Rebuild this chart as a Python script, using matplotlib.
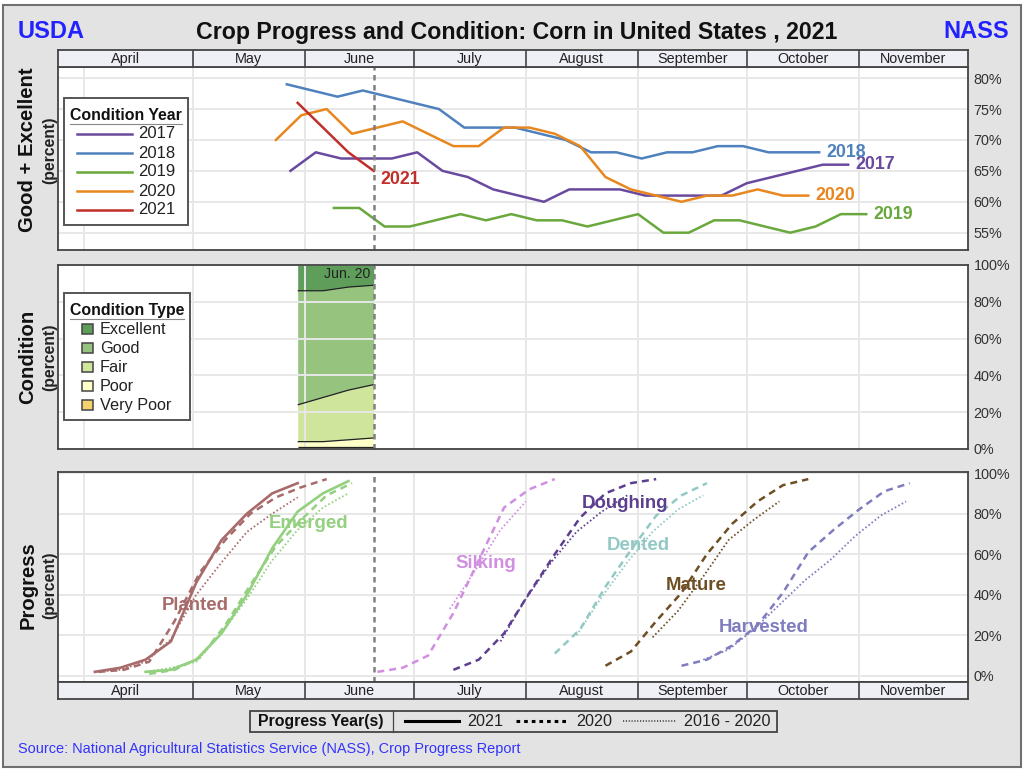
import matplotlib
matplotlib.use("Agg")
import matplotlib.pyplot as plt
import pandas as pd
from matplotlib.patches import Rectangle

plt.rcParams["font.family"] = ["Liberation Sans", "DejaVu Sans"]

W, H = 1024, 769
APR1 = pd.Timestamp("2021-04-01")

MONTHS = ["April", "May", "June", "July", "August", "September", "October", "November"]
MONTH_STARTS = ["04-01", "05-01", "06-01", "07-01", "08-01", "09-01", "10-01", "11-01"]
CURRENT = "06-20"

# good + excellent by year: first week ending, then weekly values
GE_2017_START = "05-28"
GE_2017 = [65, 68, 67, 67, 67, 68, 65, 64, 62, 61, 60, 62, 62, 62, 61, 61, 61, 61, 63, 64, 65, 66, 66]
GE_2018_START = "05-27"
GE_2018 = [79, 78, 77, 78, 77, 76, 75, 72, 72, 72, 71, 70, 68, 68, 67, 68, 68, 69, 69, 68, 68, 68]
GE_2019_START = "06-09"
GE_2019 = [59, 59, 56, 56, 57, 58, 57, 58, 57, 57, 56, 57, 58, 55, 55, 57, 57, 56, 55, 56, 58, 58]
GE_2020_START = "05-24"
GE_2020 = [70, 74, 75, 71, 72, 73, 71, 69, 69, 72, 72, 71, 69, 64, 62, 61, 60, 61, 61, 62, 61, 61]
GE_2021_START = "05-30"
GE_2021 = [76, 72, 68, 65]

# condition 2021 shares, weeks from COND_START
COND_START = "05-30"
VERY_POOR = [1, 1, 1, 1]
POOR = [3, 3, 4, 5]
FAIR = [20, 24, 27, 29]
GOOD = [62, 58, 56, 54]
EXCELLENT = [14, 14, 12, 11]

PLANTED_2021 = [2, 4, 8, 17, 46, 67, 80, 90, 95]
PLANTED_2020 = [2, 3, 7, 27, 51, 67, 80, 88, 93, 97]
PLANTED_AVG = [2, 3, 7, 18, 40, 56, 71, 80, 88]
EMERGED_2021 = [2, 3, 8, 21, 40, 63, 81, 90, 96]
EMERGED_2020 = [1, 3, 9, 25, 45, 64, 77, 89, 95]
EMERGED_AVG = [2, 4, 7, 21, 38, 57, 72, 83, 90]
SILKING_2020 = [2, 4, 10, 31, 57, 83, 92, 97]
SILKING_AVG = [33, 52, 72, 86]
DOUGHING_2020 = [3, 8, 21, 41, 60, 78, 90, 95, 97]
DOUGHING_AVG = [17, 38, 56, 71, 81, 89]
DENTED_2020 = [11, 23, 44, 62, 79, 89, 95]
DENTED_AVG = [20, 39, 56, 71, 82, 89]
MATURE_2020 = [5, 12, 27, 41, 60, 75, 86, 94, 97]
MATURE_AVG = [19, 32, 49, 67, 77, 86]
HARVESTED_2020 = [5, 8, 15, 25, 41, 61, 72, 82, 91, 95]
HARVESTED_AVG = [8, 13, 23, 35, 47, 57, 69, 79, 86]


def day(md):
    return (pd.Timestamp(f"2021-{md}") - APR1).days


def weeks(start, values):
    return [day(start) + 7 * i for i in range(len(values))]


def px_axes(fig, left, top, right, bottom):
    return fig.add_axes([left / W, 1 - bottom / H, (right - left) / W, (bottom - top) / H])


XLIM = (-7.18, 244.1)
GRID = "#e8e8e8"
EDGE = "#444444"

fig = plt.figure(figsize=(W / 100, H / 100), dpi=100, facecolor="white")
fig.add_artist(Rectangle((3 / W, 1 - 767 / H), 1018 / W, 762 / H, transform=fig.transFigure,
                         facecolor="#e3e3e3", edgecolor="#707070", linewidth=1.5, zorder=-1))


def setup_panel(ax, ticks, ylim):
    ax.set_xlim(*XLIM)
    ax.set_ylim(*ylim)
    ax.set_xticks([day(m) for m in MONTH_STARTS])
    ax.set_xticklabels([])
    ax.set_yticks(ticks)
    ax.set_yticklabels([f"{t}%" for t in ticks], fontsize=10.4, color="#333333")
    ax.yaxis.tick_right()
    ax.tick_params(length=0, pad=4)
    ax.grid(True, color=GRID, linewidth=1.4)
    ax.set_axisbelow(False)
    for s in ax.spines.values():
        s.set_color(EDGE)
        s.set_linewidth(1.3)
        s.set_zorder(6)
    ax.axvline(day(CURRENT), color="#808080", linestyle=(0, (2.2, 1.8)), linewidth=1.8, zorder=4)


def month_strip(ax):
    ax.set_xlim(*XLIM)
    ax.set_ylim(0, 1)
    ax.set_facecolor("#efeff6")
    ax.set_xticks([])
    ax.set_yticks([])
    edges = [XLIM[0]] + [day(m) for m in MONTH_STARTS[1:]] + [XLIM[1]]
    for i, name in enumerate(MONTHS):
        ax.text((edges[i] + edges[i + 1]) / 2, 0.45, name, ha="center", va="center",
                fontsize=10.4, color="#222222")
        if i > 0:
            ax.axvline(edges[i], color=EDGE, linewidth=1.2)
    for s in ax.spines.values():
        s.set_color(EDGE)
        s.set_linewidth(1.3)


# top panel
ax1 = px_axes(fig, 58, 67, 968, 250)
setup_panel(ax1, [55, 60, 65, 70, 75, 80], (52.2, 81.8))
year_series = [
    ("2017", GE_2017_START, GE_2017, "#6a4a9e"),
    ("2018", GE_2018_START, GE_2018, "#4f81bd"),
    ("2019", GE_2019_START, GE_2019, "#69a83c"),
    ("2020", GE_2020_START, GE_2020, "#e8871e"),
    ("2021", GE_2021_START, GE_2021, "#c0302b"),
]
label_offsets = {"2017": (5, 0), "2018": (5, 0), "2019": (5, 0), "2020": (5, 0), "2021": (5, -6)}
for name, start, vals, color in year_series:
    xs = weeks(start, vals)
    ax1.plot(xs, vals, color=color, linewidth=1.8, zorder=3)
    ax1.annotate(name, (xs[-1], vals[-1]), xytext=label_offsets[name], textcoords="offset points",
                 color=color, fontsize=12.8, fontweight="bold", va="center", zorder=5)

# middle panel
ax2 = px_axes(fig, 58, 265, 968, 449)
setup_panel(ax2, [0, 20, 40, 60, 80, 100], (0, 100))
cond_x = weeks(COND_START, VERY_POOR)
cond_layers = [VERY_POOR, POOR, FAIR, GOOD, EXCELLENT]
cond_colors = ["#f5d26e", "#ffffc8", "#cfe59b", "#96c47f", "#5f9e5a"]
base = [0, 0, 0, 0]
for layer, color in zip(cond_layers, cond_colors):
    top = [b + v for b, v in zip(base, layer)]
    ax2.fill_between(cond_x, base, top, color=color, linewidth=0, zorder=1)
    if layer is not EXCELLENT:
        ax2.plot(cond_x, top, color="#222222", linewidth=0.9, zorder=3, solid_capstyle="butt")
    base = top
ax2.text(day(CURRENT) - 0.9, 95.2, "Jun. 20", ha="right", va="center", fontsize=10.2, color="#222222", zorder=5)

# bottom panel
ax3 = px_axes(fig, 58, 472, 968, 682)
setup_panel(ax3, [0, 20, 40, 60, 80, 100], (-3, 100.5))
SOLID = "-"
DASHED = (0, (2.8, 2.0))
DOTTED = (0, (0.9, 1.3))
progress = [
    (PLANTED_2021, "04-04", SOLID, 1.9, "#a86b6b"),
    (PLANTED_2020, "04-05", DASHED, 1.8, "#a86b6b"),
    (PLANTED_AVG, "04-04", DOTTED, 1.3, "#a86b6b"),
    (EMERGED_2021, "04-18", SOLID, 1.9, "#93d07f"),
    (EMERGED_2020, "04-19", DASHED, 1.8, "#93d07f"),
    (EMERGED_AVG, "04-18", DOTTED, 1.3, "#93d07f"),
    (SILKING_2020, "06-21", DASHED, 1.8, "#d08fe0"),
    (SILKING_AVG, "07-11", DOTTED, 1.3, "#d08fe0"),
    (DOUGHING_2020, "07-12", DASHED, 1.8, "#5c3f8f"),
    (DOUGHING_AVG, "07-25", DOTTED, 1.3, "#5c3f8f"),
    (DENTED_2020, "08-09", DASHED, 1.8, "#93c9c5"),
    (DENTED_AVG, "08-15", DOTTED, 1.3, "#93c9c5"),
    (MATURE_2020, "08-23", DASHED, 1.8, "#6e4f24"),
    (MATURE_AVG, "09-05", DOTTED, 1.3, "#6e4f24"),
    (HARVESTED_2020, "09-13", DASHED, 1.8, "#7f7cbf"),
    (HARVESTED_AVG, "09-19", DOTTED, 1.3, "#7f7cbf"),
]
for vals, start, style, lw, color in progress:
    ax3.plot(weeks(start, vals), vals, color=color, linestyle=style, linewidth=lw, zorder=3)

month_strip(px_axes(fig, 58, 50, 968, 67))
month_strip(px_axes(fig, 58, 682, 968, 699))

# everything placed by pixel goes on an overlay
ov = fig.add_axes([0, 0, 1, 1], zorder=10)
ov.set_xlim(0, W)
ov.set_ylim(H, 0)
ov.axis("off")

ov.text(18, 32, "USDA", color="#2222ff", fontsize=17, fontweight="bold", va="center")
ov.text(1009, 32, "NASS", color="#2222ff", fontsize=17, fontweight="bold", va="center", ha="right")
ov.text(516.5, 32, "Crop Progress and Condition: Corn in United States , 2021", color="#111111",
        fontsize=16.7, fontweight="bold", va="center", ha="center")

for text, y in [("Good + Excellent", 150), ("Condition", 357), ("Progress", 585)]:
    ov.text(28, y, text, rotation=90, fontsize=14.6, fontweight="bold", va="center", ha="center", color="#111111")
for y in [150, 357, 585]:
    ov.text(50, y, "(percent)", rotation=90, fontsize=11.3, fontweight="bold", va="center", ha="center", color="#222222")

for text, x, y, color in [
    ("Planted", 195, 606, "#a86b6b"),
    ("Emerged", 309, 523, "#93d07f"),
    ("Silking", 486, 564, "#d08fe0"),
    ("Doughing", 625, 503, "#5c3f8f"),
    ("Dented", 638, 545, "#93c9c5"),
    ("Mature", 696, 585, "#6e4f24"),
    ("Harvested", 764, 627, "#7f7cbf"),
]:
    ov.text(x, y, text, color=color, fontsize=13.4, fontweight="bold", ha="center", va="center")

# condition year legend
ov.add_patch(Rectangle((64, 98), 124, 127, facecolor="white", edgecolor="#555555", linewidth=1.4))
ov.text(126, 115, "Condition Year", fontsize=11.4, fontweight="bold", ha="center", va="center", color="#111111")
ov.plot([70, 182], [123.5, 123.5], color="#888888", linewidth=0.8)
for i, (name, _, _, color) in enumerate(year_series):
    y = 133.5 + 19 * i
    ov.plot([77, 132], [y, y], color=color, linewidth=1.8)
    ov.text(138, y + 0.5, name, fontsize=12, va="center", color="#222222")

# condition type legend
ov.add_patch(Rectangle((64, 293), 126, 127, facecolor="white", edgecolor="#555555", linewidth=1.4))
ov.text(127, 310, "Condition Type", fontsize=11.4, fontweight="bold", ha="center", va="center", color="#111111")
ov.plot([70, 184], [319, 319], color="#888888", linewidth=0.8)
for i, (name, color) in enumerate(zip(["Excellent", "Good", "Fair", "Poor", "Very Poor"], cond_colors[::-1])):
    y = 328.5 + 19.1 * i
    ov.add_patch(Rectangle((82, y - 5), 11, 10, facecolor=color, edgecolor="#444444", linewidth=1.1))
    ov.text(100, y + 0.5, name, fontsize=11.7, va="center", color="#222222")

# progress legend
ov.add_patch(Rectangle((250, 711), 527, 20.5, facecolor="#e3e3e3", edgecolor="#444444", linewidth=1.3))
ov.plot([393, 393], [711, 731.5], color="#444444", linewidth=0.9)
ov.text(321, 721.5, "Progress Year(s)", fontsize=11.4, fontweight="bold", ha="center", va="center", color="#111111")
for x0, x1, tx, text, style, lw in [
    (405, 459, 467, "2021", SOLID, 2.2),
    (516, 567, 576, "2020", (0, (1.2, 1.3)), 2.2),
    (623, 676, 684, "2016 - 2020", (0, (0.7, 1.0)), 1.2),
]:
    ov.plot([x0, x1], [721, 721], color="#444444" if lw == 1.2 else "black", linestyle=style, linewidth=lw)
    ov.text(tx, 721.5, text, fontsize=11.6, va="center", color="#222222")

ov.text(18, 748.5, "Source: National Agricultural Statistics Service (NASS), Crop Progress Report",
        color="#3333ff", fontsize=10.45, va="center")

fig.savefig("out.png", dpi=100)
